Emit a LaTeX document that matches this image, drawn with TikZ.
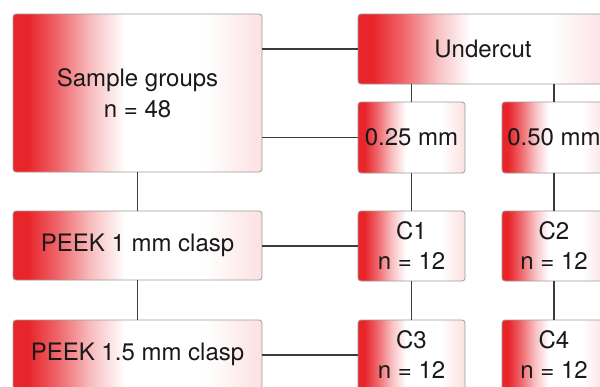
\documentclass[tikz,border=0pt]{standalone}
\usepackage{fontspec}
\setmainfont{TeX Gyre Heros}
\definecolor{redfill}{HTML}{E8252B}
\definecolor{boxline}{HTML}{9C9C9C}
\definecolor{linkline}{HTML}{3C3C3C}
\pgfdeclarehorizontalshading{redfade}{100bp}{color(0bp)=(redfill); color(28bp)=(redfill); color(34bp)=(redfill!70); color(41bp)=(redfill!28); color(47.5bp)=(white); color(63.5bp)=(white); color(75bp)=(redfill!14); color(100bp)=(redfill!14)}

\begin{document}
\begin{tikzpicture}[
    x=1pt, y=-1pt,
    grpbox/.style={draw=boxline, line width=0.8pt, rounded corners=3pt, shading=redfade, text=black!90,
        align=center, inner sep=2pt, font=\fontsize{24}{31}\selectfont},
    wide/.style={grpbox, minimum width=249pt},
    cell/.style={grpbox, minimum width=107pt, minimum height=70pt, font=\fontsize{24}{30}\selectfont},
    link/.style={draw=linkline, line width=1.1pt}
]

\useasboundingbox (0,0) rectangle (600,386);
\clip (0,0) rectangle (600,386);

\node[wide, minimum height=158pt] (groups) at (137.5,93) {Sample groups\\n = 48};
\node[wide, minimum height=69pt] (peek1) at (137.5,245.5) {PEEK 1 mm clasp};
\node[wide, minimum height=69pt] (peek15) at (137.5,354.5) {PEEK 1.5 mm clasp};

\node[grpbox, minimum width=250pt, minimum height=70pt] (undercut) at (483,49) {Undercut};
\node[cell, minimum height=71pt] (u25) at (411.5,137.5) {0.25 mm};
\node[cell, minimum height=71pt, minimum width=104pt] (u50) at (554,137.5) {0.50 mm};

\node[cell] (c1) at (411.5,246) {C1\\n = 12};
\node[cell, minimum width=104pt] (c2) at (554,246) {C2\\n = 12};
\node[cell] (c3) at (411.5,355) {C3\\n = 12};
\node[cell, minimum width=104pt] (c4) at (554,355) {C4\\n = 12};

% connectors
\draw[link] (undercut.west) -- (undercut.west -| groups.east);
\draw[link] (u25.west) -- (u25.west -| groups.east);
\draw[link] (c1.west) -- (c1.west -| peek1.east);
\draw[link] (c3.west) -- (c3.west -| peek15.east);

\draw[link] (groups.south) -- (peek1.north);
\draw[link] (peek1.south) -- (peek15.north);

\draw[link] (u25.north) -- (u25.north |- undercut.south);
\draw[link] (u50.north) -- (u50.north |- undercut.south);
\draw[link] (u25.south) -- (c1.north);
\draw[link] (c1.south) -- (c3.north);
\draw[link] (u50.south) -- (c2.north);
\draw[link] (c2.south) -- (c4.north);

\end{tikzpicture}
\end{document}
